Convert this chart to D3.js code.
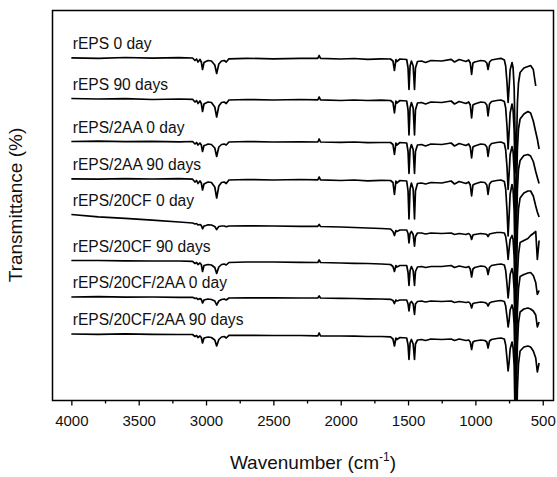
<!DOCTYPE html>
<html><head><meta charset="utf-8">
<script src="https://cdn.jsdelivr.net/npm/d3@7"></script>
<style>
body{margin:0;background:#fff}
svg{display:block}
text{font-family:"Liberation Sans",Arial,Helvetica,sans-serif;fill:#111}
</style>
</head><body>
<svg id="chart" width="557" height="477"></svg>
<script>
// Wavenumber grid (cm-1)
const wavenumbers = [
 4000,3800,3600,3400,3200,3100,3082,3070,3060,3045,
 3035,3026,3015,3001,2985,2960,2935,2921,2905,2885,
 2865,2850,2830,2700,2500,2300,2170,2160,2150,2000,
 1900,1800,1700,1630,1612,1601,1590,1583,1560,1510,
 1500,1493,1485,1475,1462,1452,1445,1430,1400,1370,
 1330,1250,1180,1155,1120,1070,1050,1038,1028,1018,
 1005,960,930,915,906,895,880,841,810,785,
 775,765,757,750,742,728,720,712,705,700,
 695,688,680,668,640,610,590,570,552,540,527];

const sampleLabels = ["rEPS 0 day","rEPS 90 days","rEPS/2AA 0 day","rEPS/2AA 90 days",
 "rEPS/20CF 0 day","rEPS/20CF 90 days","rEPS/20CF/2AA 0 day","rEPS/20CF/2AA 90 days"];

// vertical stacking offsets of each spectrum (transmittance, a.u.)
const offsets = [342.5, 301.5, 259, 221.5, 186, 140, 103.5, 66.5];

// transmittance relative to each spectrum's own baseline (a.u.)
const rEPS0 = [
 0.2,-0.3,0.5,-0.1,0.3,0,-2.5,-1,-4,-1.5,
 -4,-11.5,-4.5,-3.5,-2.5,-3,-7,-15.5,-6,-3,
 -2.5,-4,-0.8,-0.3,-0.8,-0.3,-0.3,2.5,-0.3,-1,
 -0.5,-1.3,-0.8,-1,-3,-12.5,-1.5,-3.5,-1,-1.5,
 -10,-31.5,-8,-3,-8,-31.5,-10,-3.5,-3,-4.5,
 -2.5,-3,-1.3,-4,-1.5,-3.5,-2,-5,-16.5,-5,
 -4,-2.5,-3,-5,-11.5,-4,-2,-1,-0.3,-2,
 -8,-25,-44.5,-30,-12,-4.5,-10,-30,-80,-115,
 -90,-45,-25,-14.5,-10,-8.5,-7.5,-11.5,-28,null,null];
const rEPS90 = [
 0.5,0,0.3,-0.5,0,-0.3,-3,-1.5,-4.5,-2,
 -4.5,-12.5,-5,-4,-3,-3.5,-8,-18,-7,-3.5,
 -3,-4.5,-1,-0.5,-1,-0.5,-0.8,2,-0.8,-1.5,
 -1,-1.5,-1.2,-1.5,-3.5,-14,-2,-4,-1.5,-2,
 -11,-36,-9,-3.5,-9,-36,-11,-4,-3.5,-5,
 -3,-3.5,-2,-5,-2.5,-4.5,-3,-6,-19,-6,
 -5,-3,-3.5,-6,-17,-5,-2.5,-1.5,-1,-2.5,
 -9,-28,-50,-34,-14,-5,-11,-32,-85,-120,
 -95,-50,-30,-20,-15,-12.5,-14,-22,-33,-40,-50];
const rEPS2AA0 = [
 0,0.3,-0.2,0.2,-0.3,0,-2.5,-1,-3.5,-1.5,
 -3.5,-10,-4,-3.5,-2.5,-3,-6.5,-15,-5.5,-3,
 -2.5,-3.5,-0.5,0,-0.5,-0.3,-0.5,2.5,-0.5,-0.8,
 -0.5,-1.2,-1,-1,-3,-13,-1.5,-3.5,-1,-1.5,
 -10,-32,-8,-3,-8,-32,-10,-3.5,-3,-4.5,
 -2.5,-3,-1.5,-4.5,-2,-4,-2.5,-5.5,-16.5,-5.5,
 -4.5,-2.5,-3,-5.5,-15,-4.5,-2,-1,-0.5,-2,
 -8.5,-26,-48,-33,-13,-5,-10,-30,-82,-118,
 -92,-48,-28,-19,-14,-13,-14.5,-20,-30,-36,-42];
const rEPS2AA90 = [
 0.2,-0.2,0.3,0,0.3,-0.2,-3,-1.5,-4.5,-2,
 -4,-11,-5,-4,-3,-3.5,-8,-19,-7,-3.5,
 -3,-4.5,-1,-0.5,-1,-0.5,-0.8,2,-0.8,-1.5,
 -1,-1.8,-1.3,-1.5,-3.5,-15.5,-2,-4,-1.5,-2,
 -12,-40,-10,-4,-10,-40,-12,-4.5,-4,-5,
 -3.5,-4,-2,-5,-2.5,-4.5,-3,-6,-17,-6,
 -5,-3,-3.5,-6,-15.5,-5,-2.5,-1.5,-1,-2.5,
 -10,-32,-57,-38,-15,-5.5,-11,-33,-88,-125,
 -98,-52,-30,-19,-14,-12,-12,-17,-27,-33,-38];
const rEPS20CF0 = [
 0,-2.3,-3.8,-5.7,-7.5,-8.5,-9.5,-9,-10.5,-10,
 -11,-14.3,-11.5,-11,-10.3,-10.5,-12,-15,-12,-11.5,
 -11.5,-12.3,-11.5,-11.3,-11.5,-11.8,-11.8,-10,-12,-12.5,
 -13,-13.5,-14,-14.5,-17,-21,-16,-17,-15.5,-15.5,
 -19,-28.3,-19,-17,-20,-31.7,-22,-18.5,-18.5,-19.5,
 -18.5,-19,-18.5,-20,-19,-20,-19,-20.5,-25,-20.5,
 -20,-19,-19.5,-20,-22,-19.5,-19,-18,-18,-18.5,
 -22,-32,-45,-35,-25,-21,-25,-43,-85,-120,
 -95,-60,-40,-28,-26,-24,-21,-19,-17,-45,-26];
const rEPS20CF90 = [
 0,0,-0.3,-0.5,-0.5,-0.8,-3,-2,-4,-2.5,
 -4,-11,-5,-4.5,-4,-4.5,-7,-13,-6.5,-4,
 -3.5,-4.5,-2,-1.5,-1.5,-1.8,-2,0.5,-2,-2.5,
 -2.8,-3,-3.5,-4,-6,-11,-5,-6.5,-5,-5,
 -12,-25,-10,-6,-10,-25,-11,-6.5,-6,-7,
 -6,-6,-5,-7,-5.5,-7,-6,-8.5,-16.5,-8.5,
 -7,-5.5,-6,-8,-14,-7,-5,-4,-3.5,-4.5,
 -10,-24,-37.5,-28,-14,-8,-13,-30,-78,-118,
 -92,-50,-28,-16,-14,-12.5,-12,-15,-22,-34,-30];
const rEPS20CF2AA0 = [
 0,0.3,-0.2,0,-0.3,-0.3,-1.5,-1,-2.5,-1.5,
 -2.5,-6,-3,-2.5,-2,-2.5,-4,-8,-4,-2.5,
 -2,-3,-1,-0.8,-0.8,-1,-1,1,-1,-1.3,
 -1.5,-1.8,-2,-2.3,-3.5,-6.5,-3,-4,-3,-3,
 -7,-14,-6,-4.5,-7,-17.5,-7,-4.5,-4,-5,
 -4,-4.5,-4,-5.5,-4.5,-5.5,-5,-6.5,-11,-6.5,
 -6,-5,-5.5,-6.5,-9,-6,-5,-4,-3.5,-4.5,
 -9,-20,-30,-24,-13,-8,-12,-28,-76,-118,
 -90,-48,-26,-15,-12,-11,-12,-14,-18,-30,-25];
const rEPS20CF2AA90 = [
 0,-0.3,0.2,-0.3,-0.5,-0.5,-2.5,-1.5,-3.5,-2,
 -3.5,-9,-4,-3.5,-3,-3.5,-6,-12,-5.5,-3,
 -2.5,-4,-1.3,-1.3,-1.5,-1.5,-1.8,1,-1.8,-2,
 -2.2,-2.5,-2.5,-2.8,-5,-12,-4,-5.5,-3.5,-4,
 -11,-25.5,-9,-5.5,-10,-25.5,-10,-6,-5.5,-6.5,
 -5,-5.5,-5,-6.5,-5,-6.5,-6,-8,-15.5,-8,
 -7,-6,-6.5,-8,-14,-7,-5.5,-4.5,-4,-5,
 -11,-25,-37,-29,-15,-8,-14,-32,-85,-125,
 -100,-55,-30,-17,-13,-12,-13,-17,-24,-38,-29];

const seriesValues = [rEPS0, rEPS90, rEPS2AA0, rEPS2AA90, rEPS20CF0, rEPS20CF90, rEPS20CF2AA0, rEPS20CF2AA90];

const majorTicks = [4000,3500,3000,2500,2000,1500,1000,500];
const minorTicks = [3750,3250,2750,2250,1750,1250,750];

const svg = d3.select("#chart");
const L = 52.5, R = 553.5, T = 10.5, B = 400.5;
const x = d3.scaleLinear().domain([4140, 420]).range([L, R]);
const y = d3.scaleLinear().domain([0, 390]).range([B, T]);

svg.append("defs").append("clipPath").attr("id","plotclip")
  .append("rect").attr("x", L).attr("y", T).attr("width", R-L).attr("height", B-T);

const line = d3.line()
  .defined(d => d[1] != null)
  .x(d => x(d[0])).y(d => y(d[1]));

const g = svg.append("g").attr("clip-path","url(#plotclip)");
seriesValues.forEach((vals, i) => {
  const pts = wavenumbers.map((w, j) => [w, vals[j] == null ? null : offsets[i] + vals[j]]);
  g.append("path").attr("d", line(pts))
    .attr("fill","none").attr("stroke","#000").attr("stroke-width",1.7)
    .attr("stroke-linejoin","round");
});

// labels
sampleLabels.forEach((t, i) => {
  svg.append("text").attr("x", x(3990)).attr("y", y(offsets[i]) - 9)
    .attr("font-size", 15.6).text(t);
});

// axes
const ax = svg.append("g").attr("transform", `translate(0,${B})`)
  .call(d3.axisBottom(x).tickValues(majorTicks).tickSize(5).tickPadding(9.5).tickFormat(d3.format("d")));
ax.select(".domain").remove();
ax.selectAll(".tick line").attr("stroke","#000").attr("stroke-width",1.3);
ax.selectAll(".tick text").attr("font-size",15).attr("fill","#111")
  .style("font-family",'"Liberation Sans",Arial,sans-serif');

const axm = svg.append("g").attr("transform", `translate(0,${B})`)
  .call(d3.axisBottom(x).tickValues(minorTicks).tickSize(3).tickFormat(""));
axm.select(".domain").remove();
axm.selectAll(".tick line").attr("stroke","#000").attr("stroke-width",1.3);

// frame
svg.append("rect").attr("x", L).attr("y", T).attr("width", R-L).attr("height", B-T)
  .attr("fill","none").attr("stroke","#000").attr("stroke-width",1.5);

// axis titles
const xt = svg.append("text").attr("x", 313).attr("y", 469).attr("text-anchor","middle")
  .attr("font-size", 19);
xt.append("tspan").text("Wavenumber (cm");
xt.append("tspan").attr("font-size", 12).attr("dy", -8).text("-1");
xt.append("tspan").attr("dy", 8).text(")");

svg.append("text").attr("transform","translate(22,205) rotate(-90)")
  .attr("text-anchor","middle").attr("font-size",19).text("Transmittance (%)");
</script>
</body></html>
